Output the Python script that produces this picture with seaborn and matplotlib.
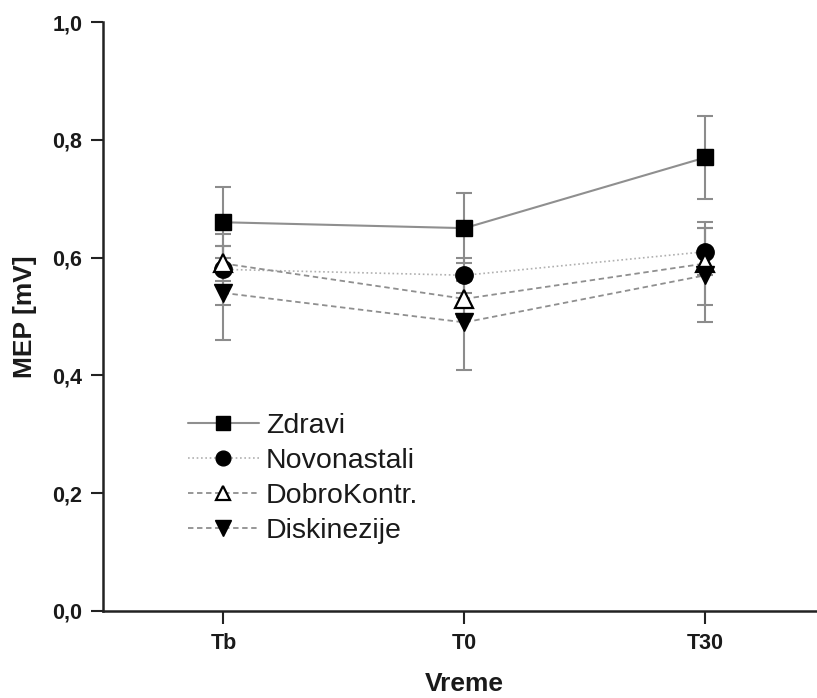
import matplotlib
matplotlib.use("Agg")
import matplotlib.pyplot as plt
import seaborn as sns
import pandas as pd

# Measurement times
times = ["Tb", "T0", "T30"]

# Mean MEP amplitude (mV) per group
zdravi = [0.66, 0.65, 0.77]
novonastali = [0.58, 0.57, 0.61]
dobrokontr = [0.59, 0.53, 0.59]
diskinezije = [0.54, 0.49, 0.57]

# Error bar half-widths (mV)
zdravi_err = [0.06, 0.06, 0.07]
novonastali_err = [0.06, 0.03, 0.04]
dobrokontr_err = [0.03, 0.03, 0.07]
diskinezije_err = [0.08, 0.08, 0.08]

groups = ["Zdravi", "Novonastali", "DobroKontr.", "Diskinezije"]
y_ticks = [0.0, 0.2, 0.4, 0.6, 0.8, 1.0]
y_ticklabels = ["0,0", "0,2", "0,4", "0,6", "0,8", "1,0"]

means = [zdravi, novonastali, dobrokontr, diskinezije]
errors = [zdravi_err, novonastali_err, dobrokontr_err, diskinezije_err]

rows = []
for g, m, e in zip(groups, means, errors):
    for i, t in enumerate(times):
        rows.append({"group": g, "pos": i, "time": t, "mep": m[i], "err": e[i]})
df = pd.DataFrame(rows)

sns.set_theme(style="ticks")
plt.rcParams["font.family"] = ["Liberation Sans", "DejaVu Sans"]

fig = plt.figure(figsize=(8.17, 6.98), dpi=100)
ax = fig.add_axes([103 / 817, 87 / 698, 723 / 817, 589 / 698])

styles = {
    "Zdravi": dict(marker="s", markersize=12, linestyle="-", color="#8f8f8f",
                   linewidth=1.5, markerfacecolor="black", markeredgecolor="black"),
    "Novonastali": dict(marker="o", markersize=12.5, linestyle=(0, (1, 1.6)), color="#b0b0b0",
                        linewidth=1.2, markerfacecolor="black", markeredgecolor="black"),
    "DobroKontr.": dict(marker="^", markersize=12.5, linestyle=(0, (3, 2)), color="#8f8f8f",
                        linewidth=1.3, markerfacecolor="white", markeredgecolor="black",
                        markeredgewidth=1.6),
    "Diskinezije": dict(marker="v", markersize=13, linestyle=(0, (3, 2)), color="#8f8f8f",
                        linewidth=1.3, markerfacecolor="black", markeredgecolor="black"),
}

for g in groups:
    sub = df[df["group"] == g]
    ax.errorbar(sub["pos"], sub["mep"], yerr=sub["err"], fmt="none",
                ecolor="#8c8c8c", elinewidth=1.5, capsize=5.5, capthick=1.5, zorder=1)

for g in groups:
    sub = df[df["group"] == g]
    kw = dict(styles[g])
    kw.setdefault("markeredgewidth", 1.0)
    sns.lineplot(data=sub, x="pos", y="mep", ax=ax, errorbar=None, label=g,
                 zorder=3, **kw)

ax.set_xlim(-0.5, 2.5)
ax.set_ylim(0.0, 1.0)
ax.set_xticks(range(len(times)))
ax.set_xticklabels(times)
ax.set_yticks(y_ticks)
ax.set_yticklabels(y_ticklabels)

for lab in ax.get_xticklabels() + ax.get_yticklabels():
    lab.set_fontweight("bold")
    lab.set_fontsize(15.5)
    lab.set_color("#1a1a1a")

ax.tick_params(axis="both", direction="out", length=9, width=1.5, color="#222222", pad=6)
ax.tick_params(axis="x", pad=7)

for side in ["top", "right"]:
    ax.spines[side].set_visible(False)
for side in ["left", "bottom"]:
    ax.spines[side].set_linewidth(1.8)
    ax.spines[side].set_color("#222222")

ax.set_xlabel("Vreme", fontsize=19, fontweight="bold", color="#1a1a1a", labelpad=13)
ax.set_ylabel("MEP [mV]", fontsize=19, fontweight="bold", color="#1a1a1a", labelpad=11)

leg = ax.legend(loc="upper left", bbox_to_anchor=(0.117, 0.336), frameon=False,
                fontsize=20.5, handlelength=2.5, handletextpad=0.25, labelspacing=0.31,
                markerscale=0.85, borderpad=0, borderaxespad=0)
for t in leg.get_texts():
    t.set_color("#1a1a1a")

fig.savefig("out.png", dpi=100)
